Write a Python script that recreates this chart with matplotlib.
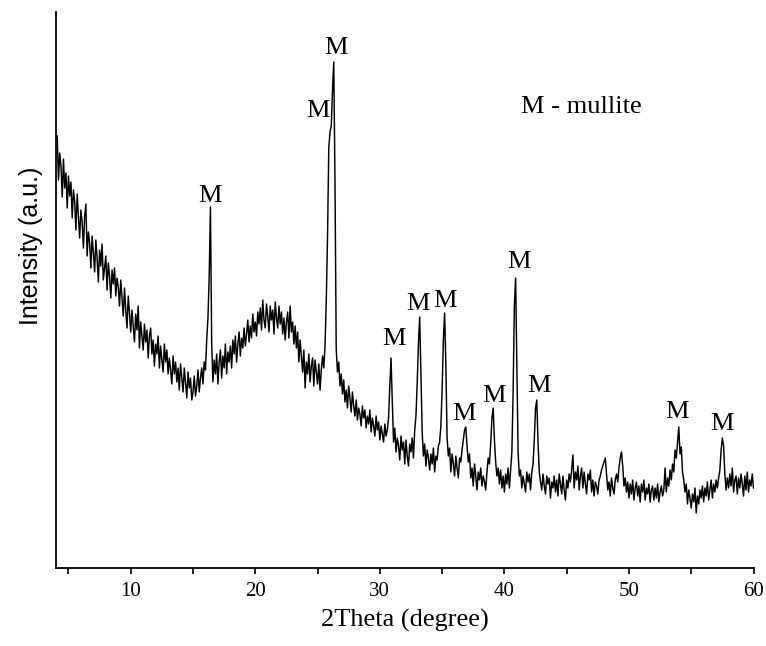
import numpy as np
import matplotlib
matplotlib.use("Agg")
import matplotlib.pyplot as plt
from matplotlib.ticker import MultipleLocator

# XRD scan, 0.1 degree step starting at 4.1 deg (one row per degree)
scan_start = 4.1
scan_step = 0.1
intensity_rows = [
    [432, 388, 415, 402, 371, 409, 380, 395, 360, 392],  # 4.1 - 5.0
    [372, 386, 350, 378, 366, 338, 374, 352, 330, 358],
    [346, 320, 352, 364, 312, 336, 325, 300, 332, 315],
    [296, 328, 310, 286, 318, 302, 324, 288, 300, 312],
    [278, 305, 292, 270, 298, 284, 300, 272, 290, 281],
    [262, 288, 270, 252, 280, 258, 240, 272, 255, 236],  # 9.1 - 10.0
    [258, 242, 226, 254, 238, 262, 220, 246, 232, 218],
    [244, 226, 238, 210, 232, 240, 214, 228, 202, 224],
    [214, 232, 200, 222, 208, 196, 224, 206, 218, 194],
    [210, 198, 184, 212, 194, 206, 186, 200, 178, 204],
    [190, 176, 200, 185, 170, 196, 180, 190, 168, 176],  # 14.1 - 15.0
    [192, 172, 182, 198, 176, 190, 200, 184, 206, 198],
    [228, 250, 292, 361, 224, 186, 208, 194, 214, 184],
    [206, 218, 190, 212, 200, 224, 194, 216, 206, 222],
    [200, 228, 214, 232, 206, 224, 236, 212, 230, 220],
    [240, 222, 234, 248, 226, 242, 230, 254, 236, 246],  # 19.1 - 20.0
    [232, 256, 244, 260, 238, 268, 248, 240, 264, 252],
    [236, 262, 248, 258, 234, 266, 250, 240, 262, 244],
    [256, 234, 250, 228, 246, 256, 230, 262, 236, 246],
    [224, 242, 220, 236, 206, 228, 212, 196, 218, 180],
    [206, 194, 214, 186, 202, 210, 182, 208, 196, 184],  # 24.1 - 25.0
    [204, 178, 198, 212, 200, 222, 268, 330, 420, 436],
    [442, 478, 506, 385, 218, 196, 206, 182, 194, 174],
    [188, 166, 178, 160, 182, 170, 156, 176, 162, 152],
    [168, 148, 160, 154, 142, 162, 150, 158, 140, 152],
    [144, 158, 136, 150, 142, 132, 152, 138, 146, 128],  # 29.1 - 30.0
    [142, 134, 126, 144, 132, 138, 150, 182, 210, 166],
    [126, 140, 116, 130, 122, 108, 132, 118, 126, 104],
    [128, 112, 102, 124, 116, 130, 110, 138, 152, 185],
    [225, 251, 194, 136, 112, 124, 102, 118, 110, 98],
    [114, 104, 120, 96, 112, 108, 122, 126, 142, 178],  # 34.1 - 35.0
    [228, 255, 204, 130, 112, 120, 96, 114, 104, 92],
    [112, 100, 90, 110, 106, 118, 128, 138, 141, 122],
    [106, 114, 90, 100, 82, 104, 92, 78, 96, 88],
    [100, 82, 92, 86, 78, 96, 110, 104, 124, 150],
    [160, 128, 106, 92, 100, 84, 98, 80, 92, 76],  # 39.1 - 40.0
    [94, 84, 100, 80, 98, 116, 175, 262, 290, 205],
    [116, 92, 98, 80, 92, 84, 76, 96, 86, 94],
    [78, 96, 104, 128, 160, 168, 126, 96, 86, 78],
    [94, 82, 74, 92, 84, 90, 70, 86, 80, 92],
    [76, 88, 72, 94, 84, 74, 92, 78, 68, 88],  # 44.1 - 45.0
    [80, 94, 86, 98, 113, 80, 96, 88, 102, 78],
    [92, 100, 80, 96, 84, 74, 94, 88, 98, 76],
    [88, 72, 86, 82, 74, 88, 92, 98, 102, 106],
    [110, 94, 78, 86, 72, 90, 80, 74, 88, 94],
    [86, 100, 110, 116, 102, 82, 90, 76, 86, 70],  # 49.1 - 50.0
    [84, 74, 88, 68, 80, 86, 72, 82, 66, 84],
    [76, 88, 68, 80, 74, 84, 66, 78, 82, 68],
    [80, 70, 84, 66, 76, 82, 72, 78, 100, 76],
    [90, 82, 98, 88, 104, 96, 118, 110, 126, 141],
    [114, 121, 96, 88, 76, 84, 64, 78, 70, 60],  # 54.1 - 55.0
    [74, 66, 80, 55, 72, 64, 78, 70, 82, 66],
    [80, 72, 86, 68, 78, 88, 70, 84, 76, 88],
    [80, 90, 98, 118, 130, 122, 94, 78, 90, 80],
    [94, 82, 100, 76, 88, 92, 74, 90, 80, 94],
    [84, 72, 92, 78, 96, 76, 88, 82, 94, 80],  # 59.1 - 60.0
]

# peak labels: (2theta, intensity of label baseline)
label_x = [16.34, 25.0, 26.44, 31.17, 33.10, 35.26, 36.78, 39.19, 41.19, 42.80, 53.87, 57.47]
label_y = [366, 451, 514, 223, 258, 261, 148, 166, 300, 176, 150, 138]

intensity = np.concatenate([np.array(r, dtype=float) for r in intensity_rows])
two_theta = scan_start + scan_step * np.arange(len(intensity))

serif = "Liberation Serif"

fig = plt.figure(figsize=(7.66, 6.46), dpi=100)
ax = fig.add_axes([56 / 766, 1 - 568 / 646, 697.5 / 766, 556 / 646])

ax.plot(two_theta, intensity, color="black", linewidth=1.05)

for x, y in zip(label_x, label_y):
    ax.text(x, y, "M", ha="center", va="baseline", fontsize=19, family=serif)
ax.text(41.36, 455, "M - mullite", ha="left", va="baseline", fontsize=19, family=serif)

ax.set_xlim(4, 60)
ax.set_ylim(0, 556)
ax.xaxis.set_major_locator(MultipleLocator(10))
ax.xaxis.set_minor_locator(MultipleLocator(5))
ax.set_yticks([])
ax.tick_params(axis="x", which="both", direction="out", length=4, width=1.2, pad=6,
               labelsize=15, labelfontfamily=serif)

for side in ("top", "right"):
    ax.spines[side].set_visible(False)
for side in ("left", "bottom"):
    ax.spines[side].set_linewidth(1.3)

ax.set_xlabel("2Theta (degree)", fontsize=19, family=serif, labelpad=6)
ax.set_ylabel("Intensity (a.u.)", fontsize=18, family="Liberation Sans")
ax.yaxis.set_label_coords(-0.0186, 0.579)

fig.savefig("out.png", dpi=100)
